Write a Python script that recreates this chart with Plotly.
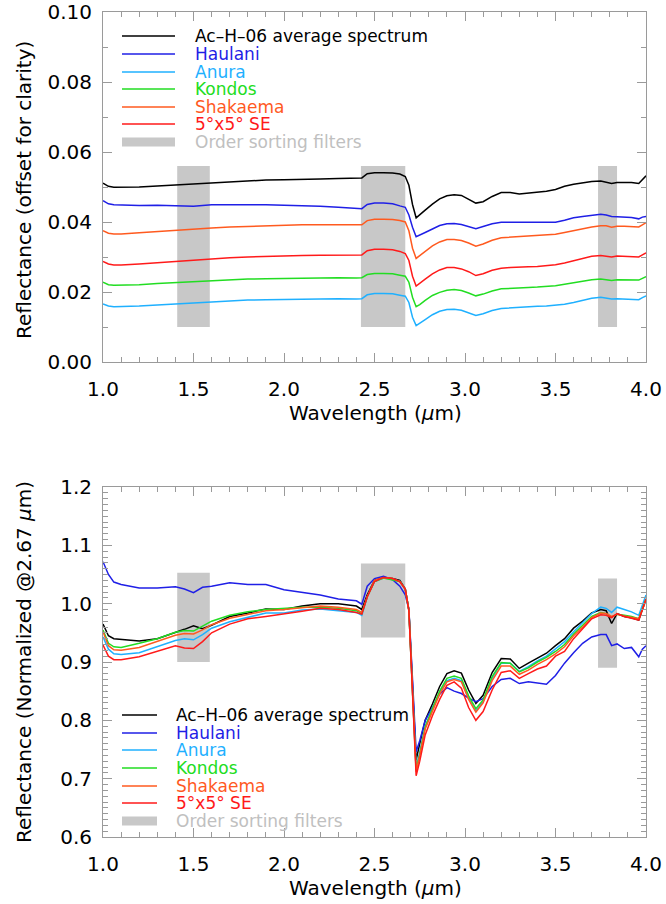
import plotly.graph_objects as go

# ---------------- data ----------------
wavelength = [1.00, 1.03, 1.06, 1.10, 1.20, 1.30, 1.40, 1.45, 1.50, 1.55, 1.60, 1.70, 1.80, 1.90, 2.00,
              2.10, 2.20, 2.30, 2.40, 2.43, 2.46, 2.50, 2.55, 2.60, 2.64, 2.67, 2.69, 2.71, 2.73, 2.75,
              2.78, 2.82, 2.86, 2.90, 2.94, 2.98, 3.02, 3.06, 3.10, 3.15, 3.20, 3.25, 3.30, 3.35, 3.40,
              3.45, 3.50, 3.55, 3.60, 3.65, 3.70, 3.75, 3.78, 3.81, 3.84, 3.88, 3.92, 3.96, 3.98, 4.00]

# Top panel: reflectance (offset for clarity)
top_ac = [0.0511, 0.0502, 0.0499, 0.0499, 0.0500, 0.0503, 0.0506, 0.0507, 0.0510, 0.0510, 0.0513, 0.0516, 0.0519, 0.0520, 0.0521,
          0.0523, 0.0523, 0.0524, 0.0524, 0.0526, 0.0538, 0.0541, 0.0541, 0.0540, 0.0537, 0.0530, 0.0505, 0.0450, 0.0412, 0.0420,
          0.0434, 0.0451, 0.0466, 0.0475, 0.0478, 0.0476, 0.0465, 0.0454, 0.0458, 0.0473, 0.0484, 0.0484, 0.0480, 0.0482, 0.0485,
          0.0488, 0.0493, 0.0502, 0.0508, 0.0512, 0.0516, 0.0517, 0.0514, 0.0510, 0.0513, 0.0513, 0.0513, 0.0510, 0.0522, 0.0532]
top_haulani = [0.0461, 0.0452, 0.0449, 0.0448, 0.0447, 0.0448, 0.0448, 0.0446, 0.0445, 0.0448, 0.0449, 0.0449, 0.0450, 0.0449, 0.0448,
               0.0447, 0.0445, 0.0442, 0.0440, 0.0438, 0.0450, 0.0454, 0.0454, 0.0452, 0.0446, 0.0442, 0.0420, 0.0385, 0.0358, 0.0362,
               0.0370, 0.0380, 0.0390, 0.0395, 0.0396, 0.0393, 0.0387, 0.0381, 0.0387, 0.0395, 0.0399, 0.0399, 0.0398, 0.0398, 0.0398,
               0.0397, 0.0399, 0.0405, 0.0412, 0.0416, 0.0420, 0.0422, 0.0420, 0.0416, 0.0415, 0.0414, 0.0413, 0.0409, 0.0414, 0.0416]
top_anura = [0.0166, 0.0160, 0.0158, 0.0158, 0.0160, 0.0163, 0.0166, 0.0167, 0.0167, 0.0170, 0.0172, 0.0175, 0.0177, 0.0178, 0.0179,
             0.0180, 0.0180, 0.0181, 0.0180, 0.0181, 0.0192, 0.0196, 0.0196, 0.0195, 0.0191, 0.0188, 0.0170, 0.0128, 0.0104, 0.0110,
             0.0121, 0.0135, 0.0145, 0.0150, 0.0151, 0.0148, 0.0141, 0.0133, 0.0138, 0.0147, 0.0153, 0.0155, 0.0157, 0.0158, 0.0159,
             0.0160, 0.0162, 0.0165, 0.0170, 0.0176, 0.0182, 0.0185, 0.0183, 0.0180, 0.0181, 0.0180, 0.0180, 0.0178, 0.0184, 0.0189]
top_kondos = [0.0228, 0.0221, 0.0219, 0.0219, 0.0221, 0.0224, 0.0227, 0.0228, 0.0229, 0.0231, 0.0233, 0.0235, 0.0237, 0.0238, 0.0239,
              0.0240, 0.0240, 0.0241, 0.0240, 0.0241, 0.0250, 0.0253, 0.0253, 0.0252, 0.0248, 0.0245, 0.0228, 0.0185, 0.0158, 0.0164,
              0.0176, 0.0190, 0.0199, 0.0205, 0.0207, 0.0204, 0.0197, 0.0189, 0.0194, 0.0203, 0.0209, 0.0211, 0.0212, 0.0213, 0.0214,
              0.0215, 0.0218, 0.0222, 0.0227, 0.0231, 0.0235, 0.0237, 0.0236, 0.0233, 0.0235, 0.0235, 0.0235, 0.0234, 0.0239, 0.0244]
top_shakaema = [0.0375, 0.0368, 0.0366, 0.0366, 0.0369, 0.0373, 0.0377, 0.0378, 0.0379, 0.0381, 0.0383, 0.0386, 0.0388, 0.0390, 0.0391,
                0.0392, 0.0392, 0.0392, 0.0391, 0.0392, 0.0404, 0.0408, 0.0408, 0.0407, 0.0404, 0.0400, 0.0375, 0.0325, 0.0296, 0.0304,
                0.0318, 0.0332, 0.0343, 0.0350, 0.0350, 0.0347, 0.0340, 0.0331, 0.0337, 0.0348, 0.0355, 0.0357, 0.0357, 0.0359, 0.0361,
                0.0363, 0.0365, 0.0370, 0.0376, 0.0381, 0.0386, 0.0389, 0.0389, 0.0385, 0.0388, 0.0388, 0.0387, 0.0386, 0.0392, 0.0398]
top_se = [0.0287, 0.0280, 0.0277, 0.0277, 0.0280, 0.0284, 0.0288, 0.0290, 0.0290, 0.0293, 0.0295, 0.0298, 0.0300, 0.0302, 0.0303,
          0.0304, 0.0305, 0.0306, 0.0305, 0.0306, 0.0318, 0.0322, 0.0322, 0.0321, 0.0316, 0.0310, 0.0290, 0.0245, 0.0217, 0.0224,
          0.0237, 0.0252, 0.0263, 0.0270, 0.0270, 0.0266, 0.0258, 0.0247, 0.0252, 0.0262, 0.0268, 0.0270, 0.0270, 0.0272, 0.0273,
          0.0275, 0.0278, 0.0283, 0.0290, 0.0296, 0.0302, 0.0304, 0.0303, 0.0300, 0.0303, 0.0302, 0.0302, 0.0300, 0.0306, 0.0312]

# Bottom panel: reflectance normalized at 2.67 um
bot_ac = [0.965, 0.945, 0.940, 0.939, 0.936, 0.940, 0.950, 0.956, 0.962, 0.957, 0.963, 0.978, 0.984, 0.991, 0.990,
          0.996, 1.000, 1.000, 0.996, 0.990, 1.015, 1.040, 1.045, 1.043, 1.040, 1.025, 0.990, 0.860, 0.732, 0.760,
          0.800, 0.828, 0.858, 0.880, 0.885, 0.881, 0.852, 0.829, 0.843, 0.882, 0.906, 0.905, 0.889, 0.898, 0.906,
          0.915, 0.928, 0.940, 0.958, 0.970, 0.984, 0.990, 0.988, 0.966, 0.983, 0.978, 0.976, 0.972, 0.990, 1.007]
bot_haulani = [1.072, 1.050, 1.037, 1.033, 1.027, 1.027, 1.029, 1.025, 1.019, 1.028, 1.030, 1.036, 1.033, 1.033, 1.024,
               1.019, 1.015, 1.008, 1.005, 0.999, 1.030, 1.043, 1.047, 1.041, 1.030, 1.015, 0.990, 0.870, 0.746, 0.765,
               0.800, 0.822, 0.845, 0.856, 0.850, 0.846, 0.838, 0.832, 0.837, 0.858, 0.870, 0.872, 0.863, 0.866, 0.864,
               0.862, 0.877, 0.898, 0.916, 0.932, 0.943, 0.947, 0.947, 0.928, 0.931, 0.923, 0.925, 0.909, 0.922, 0.928]
bot_anura = [0.943, 0.922, 0.914, 0.913, 0.916, 0.926, 0.937, 0.940, 0.938, 0.947, 0.958, 0.969, 0.977, 0.984, 0.984,
             0.989, 0.991, 0.988, 0.985, 0.980, 1.012, 1.038, 1.044, 1.042, 1.038, 1.025, 0.988, 0.850, 0.720, 0.745,
             0.790, 0.820, 0.848, 0.868, 0.872, 0.868, 0.838, 0.816, 0.832, 0.872, 0.898, 0.898, 0.884, 0.892, 0.902,
             0.910, 0.922, 0.935, 0.952, 0.968, 0.983, 0.994, 0.992, 0.985, 0.994, 0.990, 0.986, 0.980, 0.998, 1.015]
bot_kondos = [0.955, 0.932, 0.926, 0.925, 0.932, 0.940, 0.951, 0.954, 0.953, 0.962, 0.970, 0.980, 0.986, 0.990, 0.992,
              0.994, 0.994, 0.992, 0.988, 0.983, 1.012, 1.038, 1.044, 1.041, 1.038, 1.025, 0.988, 0.850, 0.715, 0.742,
              0.788, 0.820, 0.850, 0.872, 0.876, 0.872, 0.842, 0.820, 0.835, 0.875, 0.899, 0.898, 0.883, 0.890, 0.900,
              0.908, 0.918, 0.930, 0.948, 0.963, 0.978, 0.985, 0.983, 0.977, 0.982, 0.980, 0.978, 0.974, 0.992, 1.008]
bot_shakaema = [0.952, 0.928, 0.921, 0.920, 0.925, 0.935, 0.946, 0.949, 0.948, 0.955, 0.964, 0.975, 0.982, 0.988, 0.990,
                0.993, 0.996, 0.994, 0.990, 0.985, 1.012, 1.040, 1.045, 1.043, 1.038, 1.025, 0.988, 0.850, 0.712, 0.740,
                0.785, 0.815, 0.845, 0.866, 0.870, 0.866, 0.836, 0.814, 0.830, 0.868, 0.893, 0.893, 0.879, 0.886, 0.896,
                0.904, 0.914, 0.926, 0.945, 0.960, 0.976, 0.984, 0.983, 0.978, 0.982, 0.979, 0.977, 0.974, 0.990, 1.006]
bot_se = [0.929, 0.910, 0.904, 0.904, 0.909, 0.918, 0.928, 0.924, 0.923, 0.935, 0.950, 0.965, 0.974, 0.978, 0.982,
          0.987, 0.992, 0.990, 0.985, 0.982, 1.012, 1.038, 1.045, 1.043, 1.038, 1.025, 0.988, 0.845, 0.705, 0.730,
          0.775, 0.808, 0.836, 0.860, 0.866, 0.855, 0.822, 0.800, 0.815, 0.852, 0.882, 0.885, 0.872, 0.880, 0.888,
          0.893, 0.910, 0.918, 0.940, 0.957, 0.974, 0.981, 0.980, 0.976, 0.983, 0.978, 0.975, 0.972, 0.990, 1.008]

series_names = ["Ac\u2013H\u201306 average spectrum", "Haulani", "Anura", "Kondos", "Shakaema", "5\u00b0x5\u00b0 SE"]
series_colors = ["#000000", "#1f1fe6", "#1fb0ff", "#22dd22", "#ff5a1f", "#ff1a1a"]
filter_label = "Order sorting filters"
filter_color = "#c8c8c8"

# order sorting filter bands
filter_x0 = [1.41, 2.425, 3.735]
filter_x1 = [1.59, 2.67, 3.84]
top_filter_y0 = [0.010, 0.010, 0.010]
top_filter_y1 = [0.056, 0.056, 0.056]
bot_filter_y0 = [0.900, 0.942, 0.890]
bot_filter_y1 = [1.053, 1.069, 1.043]

top_series = [top_ac, top_haulani, top_anura, top_kondos, top_shakaema, top_se]
bot_series = [bot_ac, bot_haulani, bot_anura, bot_kondos, bot_shakaema, bot_se]

# ---------------- figure ----------------
W, H = 666, 904
FONT = "DejaVu Sans"
AXC = "#9a9a9a"


def px(x):
    return x / W


def py(y):
    return 1 - y / H


fig = go.Figure()

for vals, name, col in zip(top_series, series_names, series_colors):
    fig.add_trace(go.Scatter(x=wavelength, y=vals, mode="lines", name=name,
                             line=dict(color=col, width=1.5), xaxis="x", yaxis="y",
                             showlegend=False))
for vals, name, col in zip(bot_series, series_names, series_colors):
    fig.add_trace(go.Scatter(x=wavelength, y=vals, mode="lines", name=name,
                             line=dict(color=col, width=1.5), xaxis="x2", yaxis="y2",
                             showlegend=False))

shapes = []
for x0, x1, y0, y1 in zip(filter_x0, filter_x1, top_filter_y0, top_filter_y1):
    shapes.append(dict(type="rect", xref="x", yref="y", x0=x0, x1=x1, y0=y0, y1=y1,
                       fillcolor=filter_color, line=dict(width=0), layer="below"))
for x0, x1, y0, y1 in zip(filter_x0, filter_x1, bot_filter_y0, bot_filter_y1):
    shapes.append(dict(type="rect", xref="x2", yref="y2", x0=x0, x1=x1, y0=y0, y1=y1,
                       fillcolor=filter_color, line=dict(width=0), layer="below"))

annotations = []


def add_legend(rows_y, lx0, lx1, tx):
    for i, (name, col) in enumerate(zip(series_names, series_colors)):
        y = rows_y[i]
        shapes.append(dict(type="line", xref="paper", yref="paper", x0=px(lx0), x1=px(lx1),
                           y0=py(y), y1=py(y), line=dict(color=col, width=1.5)))
        annotations.append(dict(xref="paper", yref="paper", x=px(tx), y=py(y), text=name,
                                showarrow=False, xanchor="left", yanchor="middle",
                                font=dict(family=FONT, size=17, color=col)))
    y = rows_y[6]
    shapes.append(dict(type="rect", xref="paper", yref="paper", x0=px(lx0), x1=px(lx1),
                       y0=py(y - 4.5), y1=py(y + 4.5), fillcolor=filter_color, line=dict(width=0)))
    annotations.append(dict(xref="paper", yref="paper", x=px(tx), y=py(y), text=filter_label,
                            showarrow=False, xanchor="left", yanchor="middle",
                            font=dict(family=FONT, size=17, color="#c0c0c0")))


add_legend([36, 54, 72, 89, 107, 124, 142], 122, 175, 193)
add_legend([715, 733, 750, 768, 786, 803, 821], 122, 157, 174)

# axis titles
TITLE_SIZE = 20


def title_ann(x, y, text, angle=0):
    annotations.append(dict(xref="paper", yref="paper", x=px(x), y=py(y), text=text,
                            showarrow=False, textangle=angle, xanchor="center", yanchor="middle",
                            font=dict(family=FONT, size=TITLE_SIZE, color="black")))


title_ann(375, 413, "Wavelength (<i>\u03bc</i>m)")
title_ann(375, 888, "Wavelength (<i>\u03bc</i>m)")
title_ann(24, 190, "Reflectance (offset for clarity)", -90)
title_ann(24, 662, "Reflectance (Normalized @2.67 <i>\u03bc</i>m)", -90)


def axis(domain, rng, dtick, minor_dtick, anchor, fmt, standoff):
    return dict(domain=domain, range=rng, dtick=dtick, tick0=rng[0], tickformat=fmt,
                ticks="inside", ticklen=9, tickwidth=1, tickcolor=AXC,
                showline=True, linecolor=AXC, linewidth=1, mirror="allticks",
                showgrid=False, zeroline=False, anchor=anchor, automargin=False,
                ticklabelstandoff=standoff,
                minor=dict(dtick=minor_dtick, ticks="inside", ticklen=5, tickcolor=AXC,
                           tickwidth=1, showgrid=False),
                tickfont=dict(family=FONT, size=20, color="black"))


xdom = [px(103), px(646)]
fig.update_layout(
    width=W, height=H, margin=dict(l=0, r=0, t=0, b=0, autoexpand=False),
    paper_bgcolor="white", plot_bgcolor="white", showlegend=False,
    xaxis=axis(xdom, [1.0, 4.0], 0.5, 0.1, "y", ".1f", 9),
    yaxis=axis([py(362), py(12)], [0.0, 0.10], 0.02, 0.01, "x", ".2f", 6),
    xaxis2=axis(xdom, [1.0, 4.0], 0.5, 0.1, "y2", ".1f", 9),
    yaxis2=axis([py(837), py(487)], [0.6, 1.2], 0.1, 0.01, "x2", ".1f", 6),
    shapes=shapes, annotations=annotations,
)

fig.write_html("out.html")
